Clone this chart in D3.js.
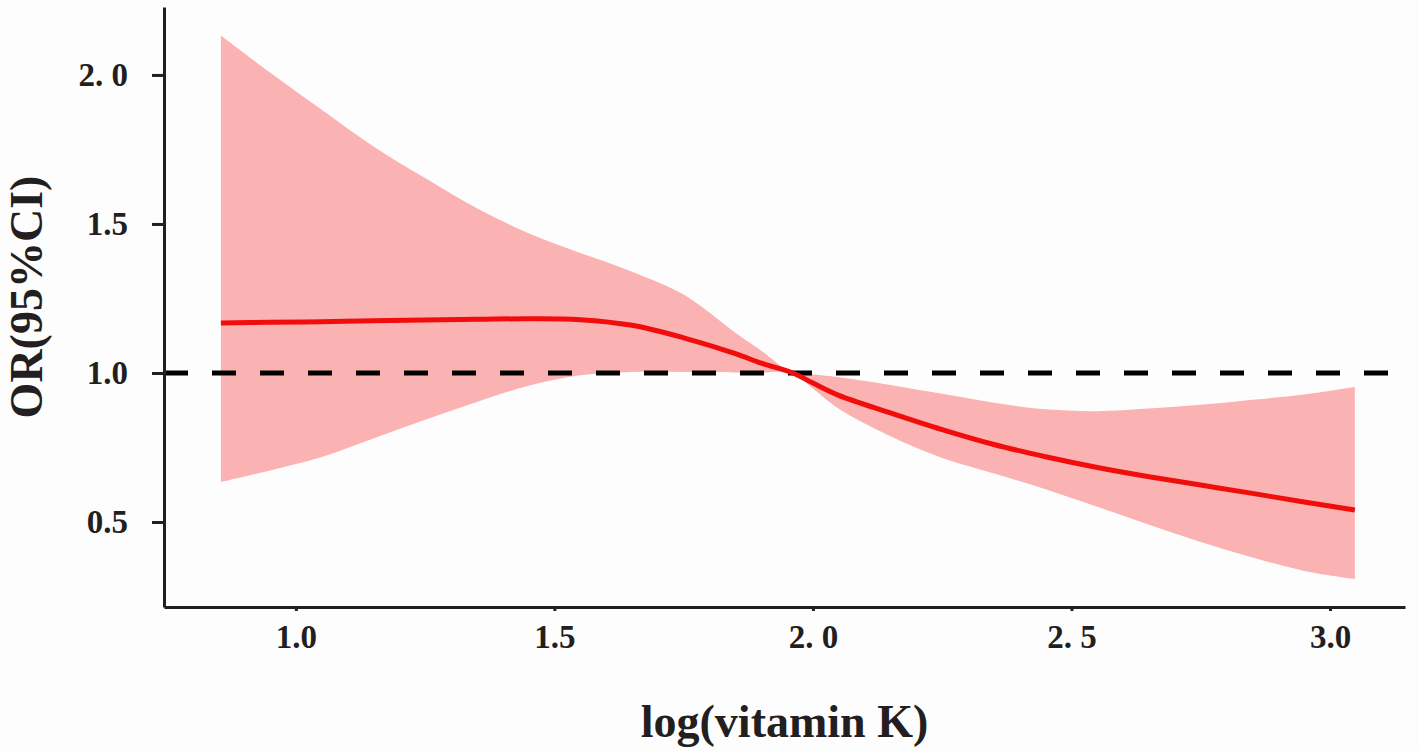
<!DOCTYPE html>
<html>
<head>
<meta charset="utf-8">
<script src="https://cdn.jsdelivr.net/npm/d3@7"></script>
<style>
  html, body { margin: 0; padding: 0; background: #fdfdfd; }
  svg { display: block; }
  text { font-family: 'Liberation Serif', 'Times New Roman', serif; font-weight: bold; fill: #231f20; }
</style>
</head>
<body>
<svg id="chart" width="1418" height="751"></svg>
<script>
// values
const logVitK = [0.855, 0.95, 1.05, 1.15, 1.25, 1.35, 1.45, 1.55, 1.65, 1.75, 1.85, 1.9, 1.961,
  2.0, 2.05, 2.15, 2.25, 2.35, 2.45, 2.55, 2.65, 2.75, 2.85, 2.95, 3.048];
const orFit = [1.168, 1.170, 1.172, 1.175, 1.178, 1.180, 1.182, 1.179, 1.160, 1.118, 1.065, 1.033, 1.0,
  0.966, 0.925, 0.866, 0.810, 0.760, 0.719, 0.683, 0.652, 0.624, 0.596, 0.567, 0.540];
const orUpper = [2.132, 2.008, 1.883, 1.760, 1.654, 1.553, 1.469, 1.403, 1.340, 1.263, 1.135, 1.075, 1.0,
  0.995, 0.986, 0.960, 0.930, 0.900, 0.878, 0.872, 0.881, 0.893, 0.910, 0.928, 0.953];
const orLower = [0.634, 0.673, 0.718, 0.780, 0.843, 0.903, 0.957, 0.992, 1.003, 1.003, 1.002, 1.001, 1.0,
  0.948, 0.880, 0.788, 0.715, 0.663, 0.610, 0.551, 0.491, 0.433, 0.381, 0.336, 0.309];

const xTicks = [1.0, 1.5, 2.0, 2.5, 3.0];
const xTickLabels = ['1.0', '1.5', '2. 0', '2. 5', '3.0'];
const yTicks = [0.5, 1.0, 1.5, 2.0];
const yTickLabels = ['0.5', '1.0', '1.5', '2. 0'];
const refLine = 1.0;
const xTitle = 'log(vitamin K)';
const yTitle = 'OR(95%CI)';

const svg = d3.select('#chart');
const plotLeft = 164;
const plotRight = 1405;
const plotTop = 7;
const plotBottom = 607;

const x = d3.scaleLinear().domain([0.745, 3.145]).range([plotLeft, plotRight]);
const y = d3.scaleLinear().domain([0.2148, 2.228]).range([plotBottom, plotTop]);

const rows = logVitK.map((v, i) => ({ x: v, fit: orFit[i], lo: orLower[i], hi: orUpper[i] }));
const smooth = d3.curveCatmullRom.alpha(0.5);

// confidence band
const band = d3.area()
  .x(d => x(d.x))
  .y0(d => y(d.lo))
  .y1(d => y(d.hi))
  .curve(smooth);
svg.append('path')
  .datum(rows)
  .attr('d', band)
  .attr('fill', '#fbb2b2');

// reference line at OR = 1
svg.append('line')
  .attr('x1', plotLeft)
  .attr('x2', plotRight)
  .attr('y1', y(refLine))
  .attr('y2', y(refLine))
  .attr('stroke', '#000')
  .attr('stroke-width', 5)
  .attr('stroke-dasharray', '24,24');

// fitted curve
const line = d3.line()
  .x(d => x(d.x))
  .y(d => y(d.fit))
  .curve(smooth);
svg.append('path')
  .datum(rows)
  .attr('d', line)
  .attr('fill', 'none')
  .attr('stroke', '#f20d0d')
  .attr('stroke-width', 5);

// axes
const xAxis = d3.axisBottom(x)
  .tickValues(xTicks)
  .tickFormat((d, i) => xTickLabels[i])
  .tickSizeInner(4)
  .tickSizeOuter(0)
  .tickPadding(14);
const gx = svg.append('g')
  .attr('transform', `translate(0, ${plotBottom})`)
  .call(xAxis);

const yAxis = d3.axisLeft(y)
  .tickValues(yTicks)
  .tickFormat((d, i) => yTickLabels[i])
  .tickSizeInner(12)
  .tickSizeOuter(0)
  .tickPadding(24);
const gy = svg.append('g')
  .attr('transform', `translate(${plotLeft}, 0)`)
  .call(yAxis);

[gx, gy].forEach(g => {
  g.select('.domain').attr('stroke', '#231f20').attr('stroke-width', 3);
  g.selectAll('.tick line').attr('stroke', '#231f20').attr('stroke-width', 3);
  g.selectAll('.tick text')
    .attr('fill', '#231f20')
    .style('font-family', "'Liberation Serif', 'Times New Roman', serif")
    .style('font-weight', 'bold')
    .style('font-size', '33px');
});

// titles
svg.append('text')
  .attr('x', (plotLeft + plotRight) / 2)
  .attr('y', 737)
  .attr('text-anchor', 'middle')
  .style('font-size', '46px')
  .text(xTitle);

svg.append('text')
  .attr('transform', 'translate(42, 297) rotate(-90)')
  .attr('text-anchor', 'middle')
  .style('font-size', '46px')
  .text(yTitle);
</script>
</body>
</html>
